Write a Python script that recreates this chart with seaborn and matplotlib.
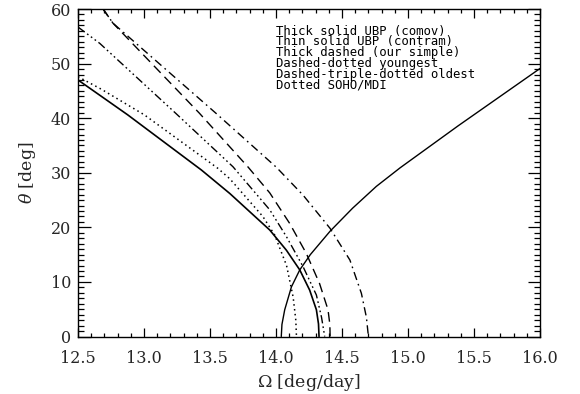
import matplotlib
matplotlib.use("Agg")
import matplotlib.pyplot as plt
from matplotlib.ticker import MultipleLocator, FormatStrFormatter
import seaborn as sns
import pandas as pd

# Rotation rate (deg/day) against latitude (deg) for each profile
comov_omega = [12.50, 12.665, 12.877, 13.435, 13.65, 13.953, 14.079, 14.18, 14.255, 14.306, 14.322, 14.326]
comov_theta = [47.0, 44.2, 40.6, 30.5, 26.2, 19.5, 15.8, 12.2, 8.5, 4.9, 2.3, 0.0]

contram_omega = [14.04, 14.045, 14.066, 14.117, 14.18, 14.26, 14.41, 14.58, 14.76, 14.94, 15.38, 16.0]
contram_theta = [0.0, 2.2, 4.9, 9.1, 12.2, 15.0, 19.3, 23.5, 27.5, 30.9, 38.6, 49.1]

simple_omega = [12.69, 12.765, 13.42, 13.79, 13.953, 14.104, 14.23, 14.33, 14.394, 14.408, 14.41]
simple_theta = [60.0, 57.4, 40.9, 31.0, 26.3, 20.7, 15.2, 9.7, 4.9, 2.2, 0.0]

young_omega = [12.69, 12.765, 13.545, 14.003, 14.205, 14.41, 14.56, 14.647, 14.685, 14.70]
young_theta = [60.0, 57.4, 40.9, 31.0, 25.9, 19.8, 14.0, 7.9, 3.5, 0.0]

old_omega = [12.50, 12.665, 13.24, 13.674, 13.953, 14.079, 14.205, 14.306, 14.345, 14.369]
old_theta = [56.7, 53.7, 40.9, 31.1, 23.2, 18.3, 12.8, 7.6, 3.5, 0.0]

mdi_omega = [12.50, 12.677, 13.003, 13.56, 13.65, 13.90, 13.99, 14.08, 14.13, 14.15, 14.155]
mdi_theta = [47.6, 45.3, 40.6, 30.8, 28.9, 22.0, 18.6, 13.0, 7.2, 3.0, 0.0]

legend_lines = [
    "Thick solid UBP (comov)",
    "Thin solid UBP (contram)",
    "Thick dashed (our simple)",
    "Dashed-dotted youngest",
    "Dashed-triple-dotted oldest",
    "Dotted SOHO/MDI",
]

sns.set_style("ticks")
plt.rcParams["font.family"] = ["DejaVu Serif"]
plt.rcParams["mathtext.fontset"] = "dejavuserif"

fig = plt.figure(figsize=(5.80, 3.94), dpi=100)
ax = fig.add_axes([78 / 580, 1 - 336.5 / 394, 462 / 580, 327.5 / 394])

curves = [
    (comov_omega, comov_theta, "-", 1.2),
    (contram_omega, contram_theta, "-", 1.0),
    (simple_omega, simple_theta, (0, (7, 4)), 1.0),
    (young_omega, young_theta, (0, (6, 3, 1.2, 3)), 1.0),
    (old_omega, old_theta, (0, (6, 2.2, 1.2, 2.2, 1.2, 2.2, 1.2, 2.2)), 1.0),
    (mdi_omega, mdi_theta, (0, (1.0, 2.2)), 1.1),
]
for om, th, ls, lw in curves:
    df = pd.DataFrame({"omega": om, "theta": th})
    sns.lineplot(data=df, x="omega", y="theta", sort=False, estimator=None,
                 color="black", linestyle=ls, linewidth=lw, ax=ax)

ax.set_xlim(12.5, 16.0)
ax.set_ylim(0, 60)
ax.xaxis.set_major_locator(MultipleLocator(0.5))
ax.xaxis.set_minor_locator(MultipleLocator(0.1))
ax.yaxis.set_major_locator(MultipleLocator(10))
ax.yaxis.set_minor_locator(MultipleLocator(1))
ax.xaxis.set_major_formatter(FormatStrFormatter("%.1f"))
ax.yaxis.set_major_formatter(FormatStrFormatter("%d"))

ax.tick_params(axis="both", which="both", direction="in", top=True, right=True,
               color="black", width=0.9, labelsize=11.5)
ax.tick_params(axis="x", which="major", length=6.5, pad=10)
ax.tick_params(axis="x", which="minor", length=3.2)
ax.tick_params(axis="y", which="major", length=9, pad=5)
ax.tick_params(axis="y", which="minor", length=4.5)
for s in ax.spines.values():
    s.set_visible(True)
    s.set_linewidth(1.0)
    s.set_color("black")

ax.set_xlabel(r"$\Omega$ [deg/day]", fontsize=12.5, labelpad=3)
ax.set_ylabel(r"$\theta$ [deg]", fontsize=12.5, labelpad=9)

# Key to the line styles, as one block of text inside the plot area
fig.text(276 / 580, 1 - 24.5 / 394, "\n".join(legend_lines), fontsize=8.8,
         family="DejaVu Sans Mono", va="top", ha="left", color="black",
         linespacing=0.78)

fig.savefig("out.png", dpi=100)
